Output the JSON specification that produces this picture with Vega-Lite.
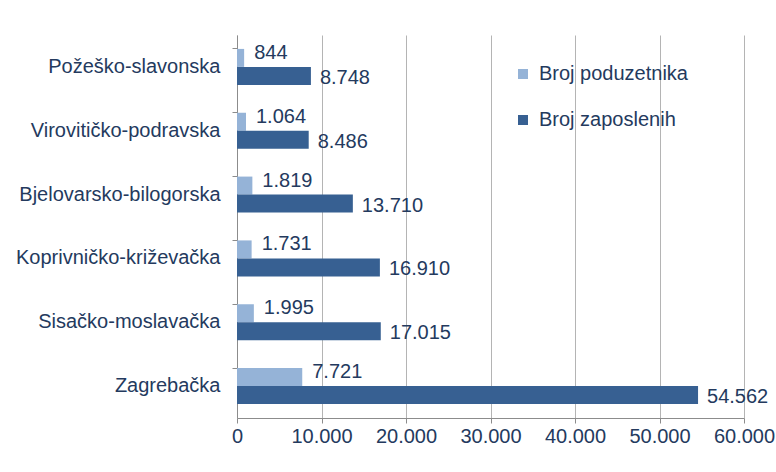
{
  "$schema": "https://vega.github.io/schema/vega-lite/v6.json",
  "width": 507,
  "height": 383,
  "autosize": {"type": "none"},
  "padding": {"left": 237, "top": 35, "right": 32, "bottom": 54},
  "background": "white",
  "config": {
    "locale": {"number": {"decimal": ",", "thousands": ".", "grouping": [3], "currency": ["", " kn"]}},
    "view": {"stroke": null},
    "font": "Liberation Sans",
    "axis": {
      "labelFont": "Liberation Sans",
      "labelFontSize": 20,
      "labelColor": "#243a5e",
      "labelLimit": 400,
      "domainColor": "#8c8c8c",
      "tickColor": "#8c8c8c",
      "gridColor": "#b4b4b4",
      "tickSize": 5
    },
    "legend": {
      "labelFont": "Liberation Sans",
      "labelFontSize": 20,
      "labelColor": "#243a5e",
      "labelLimit": 400
    }
  },
  "data": {
    "values": [
      {"zupanija": "Požeško-slavonska", "serija": "Broj poduzetnika", "vrijednost": 844},
      {"zupanija": "Požeško-slavonska", "serija": "Broj zaposlenih", "vrijednost": 8748},
      {"zupanija": "Virovitičko-podravska", "serija": "Broj poduzetnika", "vrijednost": 1064},
      {"zupanija": "Virovitičko-podravska", "serija": "Broj zaposlenih", "vrijednost": 8486},
      {"zupanija": "Bjelovarsko-bilogorska", "serija": "Broj poduzetnika", "vrijednost": 1819},
      {"zupanija": "Bjelovarsko-bilogorska", "serija": "Broj zaposlenih", "vrijednost": 13710},
      {"zupanija": "Koprivničko-križevačka", "serija": "Broj poduzetnika", "vrijednost": 1731},
      {"zupanija": "Koprivničko-križevačka", "serija": "Broj zaposlenih", "vrijednost": 16910},
      {"zupanija": "Sisačko-moslavačka", "serija": "Broj poduzetnika", "vrijednost": 1995},
      {"zupanija": "Sisačko-moslavačka", "serija": "Broj zaposlenih", "vrijednost": 17015},
      {"zupanija": "Zagrebačka", "serija": "Broj poduzetnika", "vrijednost": 7721},
      {"zupanija": "Zagrebačka", "serija": "Broj zaposlenih", "vrijednost": 54562}
    ]
  },
  "encoding": {
    "y": {
      "field": "zupanija",
      "type": "nominal",
      "sort": null,
      "title": null,
      "scale": {"paddingInner": 0.436, "paddingOuter": 0.218},
      "axis": {"bandPosition": 0, "labelPadding": 12, "grid": false, "domain": true}
    },
    "yOffset": {
      "field": "serija",
      "type": "nominal",
      "scale": {"paddingInner": 0, "paddingOuter": 0}
    },
    "x": {
      "field": "vrijednost",
      "type": "quantitative",
      "title": null,
      "scale": {"domain": [0, 60000], "nice": false},
      "axis": {"values": [0, 10000, 20000, 30000, 40000, 50000, 60000], "labelExpr": "format(datum.value, ',')", "labelOverlap": false, "labelFlush": false, "grid": true, "labelPadding": 3, "domain": true}
    }
  },
  "layer": [
    {
      "mark": {"type": "bar"},
      "encoding": {
        "color": {
          "field": "serija",
          "type": "nominal",
          "title": null,
          "scale": {"domain": ["Broj poduzetnika", "Broj zaposlenih"], "range": ["#95b3d7", "#376092"]},
          "legend": {
            "orient": "none",
            "legendX": 276,
            "legendY": 29,
            "padding": 0,
            "symbolType": "square",
            "symbolSize": 100,
            "symbolStrokeWidth": 0,
            "rowPadding": 26,
            "labelOffset": 6
          }
        }
      }
    },
    {
      "transform": [{"filter": "datum.serija === 'Broj poduzetnika'"}],
      "mark": {"type": "text", "align": "left", "baseline": "middle", "dx": 10, "dy": -5, "font": "Liberation Sans", "fontSize": 20, "color": "#243a5e"},
      "encoding": {"text": {"field": "vrijednost", "type": "quantitative", "format": ","}}
    },
    {
      "transform": [{"filter": "datum.serija === 'Broj zaposlenih'"}],
      "mark": {"type": "text", "align": "left", "baseline": "middle", "dx": 9, "dy": 2, "font": "Liberation Sans", "fontSize": 20, "color": "#243a5e"},
      "encoding": {"text": {"field": "vrijednost", "type": "quantitative", "format": ","}}
    }
  ]
}
